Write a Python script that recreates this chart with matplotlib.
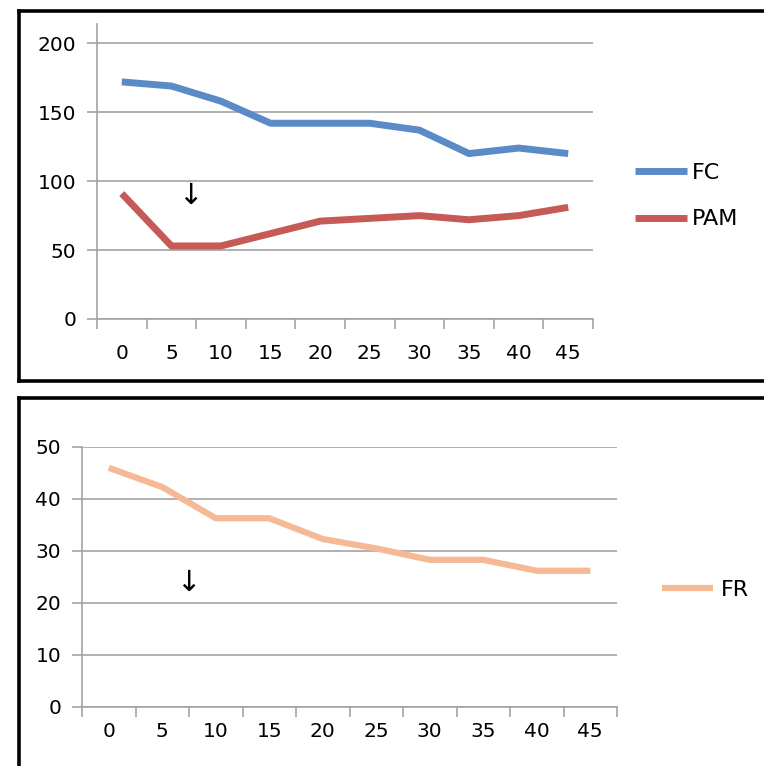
import matplotlib
matplotlib.use("Agg")
import matplotlib.pyplot as plt
from matplotlib.lines import Line2D
import numpy as np

W, H = 764, 766

categories = ["0", "5", "10", "15", "20", "25", "30", "35", "40", "45"]
fc = [172, 169, 158, 142, 142, 142, 137, 120, 124, 120]
pam = [91, 53, 53, 62, 71, 73, 75, 72, 75, 81]
fr = [46, 42.3, 36.3, 36.3, 32.3, 30.5, 28.3, 28.3, 26.2, 26.2]

BLUE = "#5B8BC7"
RED = "#C65A56"
PEACH = "#F5B996"
GRID = "#A3A3A3"

plt.rcParams["font.family"] = ["DejaVu Sans"]


def px_axes(fig, left, right, bottom, top):
    return fig.add_axes([left / W, 1 - bottom / H, (right - left) / W, (bottom - top) / H])


def style_axes(ax, ymax, yticks, xpad):
    n = len(categories)
    ax.set_xlim(-0.5, n - 0.5)
    ax.set_ylim(0, ymax)
    ax.set_yticks(yticks)
    ax.set_xticks(np.arange(n))
    ax.set_xticklabels(categories)
    ax.set_xticks(np.arange(n + 1) - 0.5, minor=True)
    ax.tick_params(axis="x", which="major", length=0, pad=xpad, labelsize=14.5)
    ax.tick_params(axis="x", which="minor", length=7, width=1.2, color=GRID, direction="out")
    ax.tick_params(axis="y", length=7, width=1.2, color=GRID, pad=8, labelsize=14.5)
    ax.grid(axis="y", color=GRID, linewidth=1.2)
    ax.set_axisbelow(True)
    for side in ("top", "right"):
        ax.spines[side].set_visible(False)
    for side in ("left", "bottom"):
        ax.spines[side].set_color(GRID)
        ax.spines[side].set_linewidth(1.2)


fig = plt.figure(figsize=(W / 100, H / 100), dpi=100)

# top chart
ax1 = px_axes(fig, 97, 593, 319, 24)
x = np.arange(len(categories))
ax1.plot(x, fc, color=BLUE, linewidth=5, label="FC", solid_capstyle="butt")
ax1.plot(x, pam, color=RED, linewidth=5, label="PAM", solid_capstyle="butt")
style_axes(ax1, 214, [0, 50, 100, 150, 200], 18)
ax1.legend(loc="center left", bbox_to_anchor=(635 / W, 1 - 196 / H),
           bbox_transform=fig.transFigure, frameon=False, fontsize=16,
           handlelength=2.35, handletextpad=0.2, labelspacing=1.2, borderpad=0,
           borderaxespad=0)
fig.text(190 / W, 1 - 196 / H, "↓", ha="center", va="center", fontsize=21)

# bottom chart
ax2 = px_axes(fig, 82, 617, 707, 447)
ax2.plot(x, fr, color=PEACH, linewidth=4.5, label="FR", solid_capstyle="butt")
style_axes(ax2, 50, [0, 10, 20, 30, 40, 50], 11)
ax2.legend(loc="center left", bbox_to_anchor=(662 / W, 1 - 590 / H),
           bbox_transform=fig.transFigure, frameon=False, fontsize=16,
           handlelength=2.3, handletextpad=0.35, borderpad=0, borderaxespad=0)
fig.text(188 / W, 1 - 583 / H, "↓", ha="center", va="center", fontsize=21)

# panel borders
def fig_line(x0, y0, x1, y1):
    fig.add_artist(Line2D([x0 / W, x1 / W], [1 - y0 / H, 1 - y1 / H],
                          transform=fig.transFigure, color="black", linewidth=2.6,
                          solid_capstyle="projecting"))


fig_line(18.5, 11, W, 11)
fig_line(18.5, 381, W, 381)
fig_line(18.5, 11, 18.5, 381)
fig_line(18.5, 398, W, 398)
fig_line(18.5, 398, 18.5, H)

fig.savefig("out.png", dpi=100)
